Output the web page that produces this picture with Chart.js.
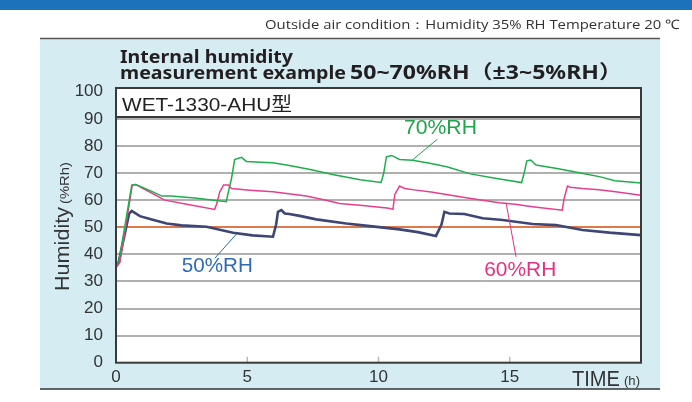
<!DOCTYPE html>
<html>
<head>
<meta charset="utf-8">
<script src="https://cdn.jsdelivr.net/npm/chart.js@4"></script>
<style>
  html, body { margin: 0; padding: 0; background: #fff; }
  canvas { display: block; }
</style>
</head>
<body>
<canvas id="chart" width="692" height="402"></canvas>
<script>
// Valores (tempo em h, umidade em %RH)
const rh70Time = [0, 0.12, 0.6, 0.75, 1.3, 1.75, 2.1, 3.0, 4.2, 4.28, 4.4, 4.52, 4.78, 4.97, 5.5, 5.97, 6.5, 7.4, 8.25, 9.3, 10.1, 10.2, 10.3, 10.5, 10.8, 11.3, 12.0, 12.6, 13.5, 14.5, 15.45, 15.55, 15.65, 15.8, 16.0, 16.8, 17.8, 18.5, 19.0, 20];
const rh70Values = [35.5, 38, 65.5, 65.8, 63.5, 61.5, 61.5, 60.8, 59.4, 63, 68, 75, 75.8, 74.3, 74.0, 73.8, 73, 71.3, 69.5, 67.5, 66.5, 70, 76, 76.5, 75, 74.7, 73.5, 72.3, 69.7, 68, 66.5, 70, 74.5, 74.8, 73, 71.7, 69.8, 68.5, 67.2, 66.3];

const rh60Time = [0, 0.15, 0.62, 0.75, 1.0, 1.86, 2.8, 3.76, 3.85, 3.95, 4.1, 4.28, 4.4, 5.1, 5.98, 6.5, 7.25, 8.0, 8.52, 9.4, 10.4, 10.55, 10.62, 10.8, 11.0, 11.43, 12.0, 12.7, 13.46, 14.6, 15.2, 15.87, 17.0, 17.08, 17.2, 17.3, 17.77, 18.4, 19.03, 20];
const rh60Values = [35, 37, 65.5, 65.8, 64.5, 60, 58.3, 56.6, 59, 63, 65.6, 65.6, 64.3, 63.7, 63.1, 62.5, 61.5, 60, 58.8, 58, 57, 56.6, 62, 65.2, 64.3, 63.7, 63, 61.9, 60.7, 59, 58.5, 57.6, 56.3, 61, 65.2, 64.8, 64.3, 63.8, 63.1, 61.8];

const rh50Time = [0, 0.1, 0.5, 0.6, 0.91, 1.4, 1.93, 2.5, 3.45, 4.46, 5.2, 5.98, 6.1, 6.17, 6.3, 6.43, 6.6, 7.0, 7.63, 8.77, 9.5, 10.8, 11.5, 12.19, 12.4, 12.51, 12.7, 13.27, 13.97, 14.73, 15.87, 16.76, 17.77, 18.8, 20];
const rh50Values = [36, 37, 55, 56, 54.1, 52.8, 51.4, 50.7, 50.2, 48, 47, 46.5, 51, 55.7, 56.3, 55.1, 54.9, 54.2, 52.9, 51.4, 50.6, 49.2, 48.2, 46.8, 51, 55.7, 55.1, 54.9, 53.3, 52.7, 51.2, 50.8, 49, 48, 47.1];

const xTicks = [0, 5, 10, 15];
const yTicks = [0, 10, 20, 30, 40, 50, 60, 70, 80, 90, 100];

// Rótulos das curvas: posição do texto e da linha-guia em coordenadas do gráfico
const seriesLabels = [
    { text: "70%RH", color: "#1fa64a", at: [12.36, 86.6], from: [12.24, 82.5], to: [11.29, 74.8], width: 73 },
    { text: "60%RH", color: "#e5317f", at: [15.4, 34.2], from: [15.24, 39.1], to: [14.86, 59.0], width: 72 },
    { text: "50%RH", color: "#2f6cb5", at: [3.86, 35.7], from: [3.76, 38.5], to: [4.59, 47.5], width: 71 }
];

const toPoints = (t, v) => t.map((x, i) => ({ x: x, y: v[i] }));

// Texto ajustado a uma largura fixa
function fitText(ctx, text, x, y, width) {
    const w = ctx.measureText(text).width;
    ctx.save();
    ctx.translate(x, y);
    ctx.scale(width / w, 1);
    ctx.fillText(text, 0, 0);
    ctx.restore();
}

const decor = {
    id: "decor",
    beforeDraw(chart) {
        const ctx = chart.ctx;
        const a = chart.chartArea;
        ctx.save();
        ctx.fillStyle = "#fff";
        ctx.fillRect(0, 0, 692, 402);
        // faixa azul do topo (título cortado)
        ctx.fillStyle = "#1b73ba";
        ctx.fillRect(0, 0, 692, 10);
        ctx.beginPath();
        ctx.rect(0, 0, 692, 10);
        ctx.clip();
        ctx.fillStyle = "#fff";
        ctx.font = "bold 28px 'Noto Sans'";
        ctx.textBaseline = "alphabetic";
        fitText(ctx, "Humidity stability by WET type humidifying system", 70, -7, 600);
        ctx.restore();

        ctx.save();
        // painel azul claro
        ctx.fillStyle = "#d5ecf3";
        ctx.fillRect(40, 38, 620, 351);
        ctx.strokeStyle = "#555";
        ctx.lineWidth = 1.5;
        ctx.beginPath();
        ctx.moveTo(40, 38.5); ctx.lineTo(660, 38.5);
        ctx.stroke();
        ctx.strokeStyle = "#333";
        ctx.beginPath();
        ctx.moveTo(40, 389); ctx.lineTo(660, 389);
        ctx.stroke();
        ctx.fillStyle = "#fff";
        ctx.fillRect(a.left, a.top, a.right - a.left, a.bottom - a.top);

        ctx.fillStyle = "#333";
        ctx.font = "13px 'Open Sans'";
        ctx.textBaseline = "alphabetic";
        fitText(ctx, "Outside air condition：Humidity 35% RH Temperature 20 ℃", 265, 29, 415);
        ctx.restore();
    },
    afterDraw(chart) {
        const ctx = chart.ctx;
        const a = chart.chartArea;
        const xs = chart.scales.x, ys = chart.scales.y;
        ctx.save();
        ctx.textBaseline = "alphabetic";

        // marcas curtas no eixo x
        ctx.strokeStyle = "#bbb";
        ctx.lineWidth = 1.5;
        xTicks.slice(1).forEach(t => {
            const px = xs.getPixelForValue(t);
            ctx.beginPath();
            ctx.moveTo(px, a.bottom); ctx.lineTo(px, a.bottom - 6);
            ctx.stroke();
        });

        // moldura
        ctx.strokeStyle = "#3a3a3a";
        ctx.lineWidth = 2;
        ctx.strokeRect(a.left, a.top, a.right - a.left, a.bottom - a.top);

        // caixa do modelo
        ctx.fillStyle = "#fff";
        ctx.fillRect(a.left, a.top, a.right - a.left, 29);
        ctx.strokeRect(a.left, a.top, a.right - a.left, 29);
        ctx.fillStyle = "#222";
        ctx.font = "19px 'Liberation Sans', 'Noto Sans CJK JP'";
        fitText(ctx, "WET-1330-AHU型", a.left + 6, a.top + 23, 170);

        // títulos
        ctx.fillStyle = "#231f20";
        ctx.font = "bold 18px 'Noto Sans'";
        fitText(ctx, "Internal humidity", 120, 63, 173);
        fitText(ctx, "measurement example", 120, 79, 226);
        ctx.font = "bold 19px 'Noto Sans', 'Noto Sans CJK JP'";
        fitText(ctx, "50~70%RH（±3~5%RH）", 350, 79, 272);

        // título do eixo y
        ctx.fillStyle = "#333";
        ctx.save();
        ctx.translate(69, 291);
        ctx.rotate(-Math.PI / 2);
        ctx.font = "21px 'Liberation Sans'";
        fitText(ctx, "Humidity", 0, 0, 84);
        ctx.font = "13px 'Liberation Sans'";
        fitText(ctx, "(%Rh)", 87, 0, 42);
        ctx.restore();

        // título do eixo x
        ctx.font = "22px 'Liberation Sans'";
        fitText(ctx, "TIME", 572, 386, 48);
        ctx.font = "13px 'Liberation Sans'";
        fitText(ctx, "(h)", 624, 385, 16);

        // rótulos das séries
        seriesLabels.forEach(l => {
            ctx.strokeStyle = l.color;
            ctx.lineWidth = 1;
            ctx.beginPath();
            ctx.moveTo(xs.getPixelForValue(l.from[0]), ys.getPixelForValue(l.from[1]));
            ctx.lineTo(xs.getPixelForValue(l.to[0]), ys.getPixelForValue(l.to[1]));
            ctx.stroke();
            ctx.fillStyle = l.color;
            ctx.font = "21px 'Liberation Sans'";
            ctx.textBaseline = "middle";
            const cx = xs.getPixelForValue(l.at[0]);
            const cy = ys.getPixelForValue(l.at[1]);
            fitText(ctx, l.text, cx - l.width / 2, cy, l.width);
        });
        ctx.restore();
    }
};

new Chart(document.getElementById("chart").getContext("2d"), {
    type: "line",
    data: {
        datasets: [
            { label: "70%RH", data: toPoints(rh70Time, rh70Values), borderColor: "#1fae4c", borderWidth: 1.5 },
            { label: "60%RH", data: toPoints(rh60Time, rh60Values), borderColor: "#ea3d8c", borderWidth: 1.5 },
            { label: "50%RH", data: toPoints(rh50Time, rh50Values), borderColor: "#3d4674", borderWidth: 2.6 }
        ]
    },
    options: {
        responsive: false,
        animation: false,
        devicePixelRatio: 1,
        elements: { point: { radius: 0 }, line: { tension: 0 } },
        layout: { padding: { left: 40, top: 88, right: 51, bottom: 0 } },
        plugins: { legend: { display: false }, tooltip: { enabled: false } },
        scales: {
            x: {
                type: "linear",
                min: 0,
                max: 20,
                afterBuildTicks: s => { s.ticks = xTicks.map(v => ({ value: v })); },
                afterFit: s => { s.height = 39.3; },
                grid: { display: false, drawTicks: false },
                border: { display: false },
                ticks: { font: { family: "'Liberation Sans'", size: 17 }, color: "#333", padding: 4, maxRotation: 0 }
            },
            y: {
                min: 0,
                max: 101.4,
                afterBuildTicks: s => { s.ticks = yTicks.map(v => ({ value: v })); },
                afterFit: s => { s.width = 76; },
                grid: {
                    drawTicks: false,
                    lineWidth: 2,
                    color: c => c.tick.value === 50 ? "#e0784a" : (c.tick.value === 0 || c.tick.value === 100 ? "rgba(0,0,0,0)" : "#b0b0b0")
                },
                border: { display: false },
                ticks: { font: { family: "'Liberation Sans'", size: 17 }, color: "#333", padding: 13 }
            }
        }
    },
    plugins: [decor]
});
</script>
</body>
</html>
